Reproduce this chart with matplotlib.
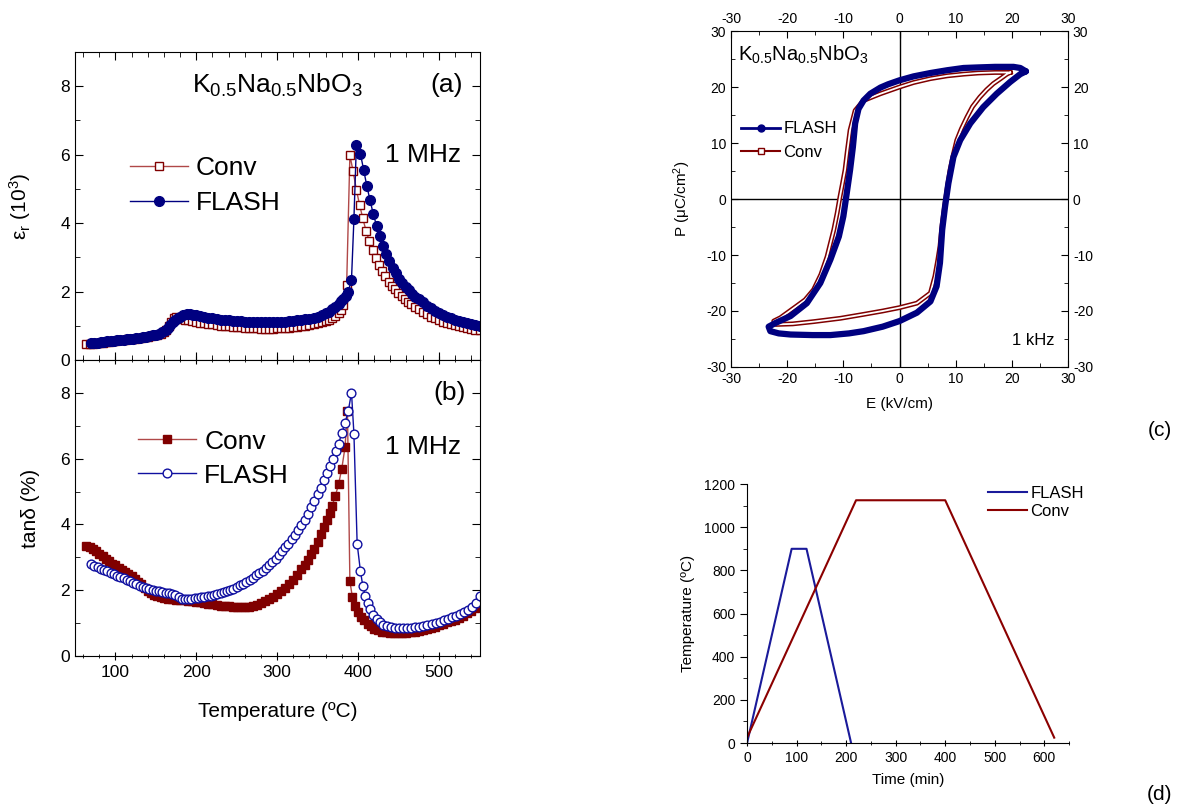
import matplotlib
matplotlib.use("Agg")
import matplotlib.pyplot as plt
from matplotlib.lines import Line2D
from matplotlib.ticker import MultipleLocator

plt.rcParams['font.family'] = ['Liberation Sans', 'DejaVu Sans']
plt.rcParams['mathtext.default'] = 'regular'
plt.rcParams['axes.unicode_minus'] = False

# ---------------- data: (a) permittivity, 1 MHz ----------------
conv_eps_T = [64, 68, 72, 76, 80, 84, 88, 92, 96, 100, 104, 108, 112, 116, 120, 124, 128, 132, 136, 140,
              144, 148, 152, 156, 160, 163, 166, 169, 172, 175, 178, 182, 186, 190, 195, 200, 205, 210, 215, 220,
              225, 230, 235, 240, 245, 250, 255, 260, 265, 270, 275, 280, 285, 290, 295, 300, 305, 310, 315, 320,
              325, 330, 335, 340, 345, 350, 355, 360, 364, 368, 372, 376, 379, 382, 386, 390, 394, 398, 402, 406,
              410, 414, 418, 422, 426, 430, 434, 438, 442, 446, 450, 454, 458, 462, 466, 470, 475, 480, 485, 490,
              495, 500, 505, 510, 515, 520, 525, 530, 535, 540, 545, 551]
conv_eps = [0.46, 0.47, 0.48, 0.49, 0.50, 0.51, 0.52, 0.53, 0.55, 0.56, 0.57, 0.58, 0.59, 0.60, 0.61, 0.62, 0.64, 0.65, 0.66, 0.68,
            0.70, 0.72, 0.74, 0.77, 0.82, 0.88, 0.98, 1.12, 1.22, 1.25, 1.24, 1.20, 1.18, 1.16, 1.13, 1.11, 1.09, 1.08, 1.06, 1.04,
            1.02, 1.00, 0.99, 0.98, 0.97, 0.96, 0.95, 0.94, 0.93, 0.92, 0.92, 0.91, 0.91, 0.91, 0.91, 0.92, 0.92, 0.93, 0.94, 0.95,
            0.96, 0.98, 1.00, 1.02, 1.04, 1.07, 1.10, 1.14, 1.18, 1.22, 1.28, 1.36, 1.45, 1.62, 2.19, 5.98, 5.51, 4.98, 4.53, 4.14,
            3.77, 3.48, 3.22, 2.97, 2.77, 2.60, 2.44, 2.29, 2.17, 2.06, 1.96, 1.87, 1.78, 1.70, 1.63, 1.56, 1.48, 1.40, 1.33, 1.27,
            1.22, 1.17, 1.12, 1.08, 1.04, 1.01, 0.98, 0.96, 0.93, 0.91, 0.89, 0.87]

flash_eps_T = [70, 74, 78, 82, 86, 90, 94, 98, 102, 106, 110, 114, 118, 122, 126, 130, 134, 138, 142, 146,
               150, 154, 158, 162, 165, 168, 171, 174, 177, 180, 184, 188, 192, 196, 200, 205, 210, 215, 220, 225,
               230, 235, 240, 245, 250, 255, 260, 265, 270, 275, 280, 285, 290, 295, 300, 305, 310, 315, 320, 325,
               330, 335, 340, 345, 350, 355, 360, 364, 368, 372, 376, 379, 382, 385, 388, 392, 395, 398, 403, 407,
               411, 415, 419, 423, 427, 431, 435, 439, 443, 447, 451, 455, 459, 463, 467, 471, 475, 480, 485, 490,
               495, 500, 505, 510, 515, 520, 525, 530, 535, 540, 545, 551]
flash_eps = [0.49, 0.50, 0.51, 0.52, 0.53, 0.54, 0.55, 0.56, 0.57, 0.58, 0.59, 0.60, 0.61, 0.62, 0.63, 0.65, 0.66, 0.68, 0.70, 0.72,
             0.74, 0.77, 0.81, 0.87, 0.94, 1.02, 1.10, 1.17, 1.23, 1.27, 1.31, 1.33, 1.33, 1.32, 1.30, 1.28, 1.26, 1.24, 1.22, 1.20,
             1.18, 1.17, 1.16, 1.15, 1.14, 1.13, 1.12, 1.11, 1.11, 1.10, 1.10, 1.10, 1.10, 1.10, 1.11, 1.11, 1.12, 1.13, 1.14, 1.16,
             1.17, 1.19, 1.21, 1.24, 1.27, 1.31, 1.36, 1.41, 1.48, 1.55, 1.64, 1.71, 1.78, 1.88, 2.00, 2.35, 4.12, 6.27, 6.03, 5.56,
             5.08, 4.66, 4.26, 3.92, 3.61, 3.33, 3.09, 2.89, 2.70, 2.53, 2.38, 2.25, 2.14, 2.03, 1.94, 1.85, 1.77, 1.68, 1.59, 1.51,
             1.44, 1.38, 1.32, 1.27, 1.22, 1.18, 1.14, 1.10, 1.07, 1.04, 1.01, 0.98]

# ---------------- data: (b) loss tangent, 1 MHz ----------------
conv_tan_T = [64, 68, 72, 76, 80, 84, 88, 92, 96, 100, 104, 108, 112, 116, 120, 124, 128, 132, 136, 140,
              144, 148, 152, 156, 160, 165, 170, 175, 180, 185, 190, 195, 200, 205, 210, 215, 220, 225, 230, 235,
              240, 245, 250, 255, 260, 265, 270, 275, 280, 285, 290, 295, 300, 305, 310, 315, 320, 325, 330, 334,
              338, 342, 346, 350, 354, 358, 362, 365, 368, 372, 376, 380, 384, 387, 390, 393, 396, 400, 404, 408,
              412, 416, 420, 425, 430, 435, 440, 445, 450, 455, 460, 465, 470, 475, 480, 485, 490, 495, 500, 505,
              510, 515, 520, 525, 530, 535, 540, 545, 549, 551]
conv_tan = [3.34, 3.30, 3.25, 3.18, 3.10, 3.03, 2.96, 2.88, 2.81, 2.76, 2.69, 2.62, 2.55, 2.49, 2.42, 2.34, 2.26, 2.18, 2.08, 1.98,
            1.92, 1.87, 1.83, 1.80, 1.77, 1.74, 1.72, 1.71, 1.70, 1.69, 1.68, 1.67, 1.65, 1.63, 1.61, 1.59, 1.57, 1.55, 1.53, 1.52,
            1.51, 1.50, 1.49, 1.48, 1.48, 1.49, 1.52, 1.56, 1.61, 1.67, 1.73, 1.80, 1.88, 1.97, 2.07, 2.19, 2.32, 2.47, 2.64, 2.78,
            2.93, 3.10, 3.25, 3.48, 3.70, 3.92, 4.15, 4.35, 4.57, 4.87, 5.22, 5.70, 6.35, 7.45, 2.28, 1.80, 1.52, 1.35, 1.20, 1.08,
            0.98, 0.90, 0.83, 0.78, 0.74, 0.72, 0.70, 0.69, 0.69, 0.69, 0.70, 0.72, 0.74, 0.76, 0.79, 0.82, 0.86, 0.89, 0.93, 0.97,
            1.02, 1.06, 1.11, 1.17, 1.23, 1.30, 1.36, 1.46, 1.56, 1.64]

flash_tan_T = [70, 74, 78, 82, 86, 90, 94, 98, 102, 106, 110, 114, 118, 122, 126, 130, 134, 138, 142, 146,
               150, 154, 158, 162, 166, 170, 174, 178, 182, 186, 190, 194, 198, 202, 206, 210, 214, 218, 222, 226,
               230, 234, 238, 242, 246, 250, 254, 258, 262, 266, 270, 274, 278, 282, 286, 290, 294, 298, 302, 306,
               310, 314, 318, 322, 326, 330, 334, 338, 342, 346, 350, 354, 358, 362, 365, 369, 373, 376, 380, 384,
               388, 392, 395, 399, 403, 406, 409, 412, 415, 419, 423, 427, 431, 436, 441, 446, 451, 456, 461, 466,
               471, 476, 481, 486, 491, 496, 501, 506, 511, 516, 521, 526, 531, 536, 541, 546, 551]
flash_tan = [2.81, 2.75, 2.70, 2.66, 2.62, 2.57, 2.53, 2.48, 2.44, 2.40, 2.36, 2.31, 2.27, 2.22, 2.18, 2.14, 2.11, 2.08, 2.05, 2.02,
             1.99, 1.97, 1.95, 1.93, 1.91, 1.88, 1.85, 1.80, 1.74, 1.72, 1.73, 1.74, 1.76, 1.77, 1.78, 1.79, 1.81, 1.83, 1.86, 1.88,
             1.91, 1.94, 1.97, 2.01, 2.05, 2.10, 2.15, 2.20, 2.26, 2.32, 2.38, 2.45, 2.52, 2.60, 2.68, 2.77, 2.86, 2.96, 3.07, 3.18,
             3.30, 3.42, 3.55, 3.68, 3.82, 3.98, 4.14, 4.32, 4.52, 4.72, 4.92, 5.12, 5.36, 5.58, 5.77, 6.00, 6.22, 6.45, 6.78, 7.09,
             7.45, 8.01, 6.76, 3.41, 2.59, 2.13, 1.83, 1.61, 1.42, 1.25, 1.12, 1.02, 0.95, 0.90, 0.87, 0.85, 0.84, 0.84, 0.84, 0.85,
             0.87, 0.89, 0.91, 0.94, 0.97, 1.00, 1.04, 1.08, 1.13, 1.18, 1.23, 1.29, 1.35, 1.41, 1.48, 1.60, 1.82]

# ---------------- data: (c) P-E loops, 1 kHz ----------------
flash_E = [22.5, 21.5, 20.3, 17.0, 14.0, 11.4, 8.5, 5.5, 2.5, 0.0, -2.0, -3.4, -5.2, -6.4, -7.3, -7.9, -8.3, -8.8, -9.4, -10.0,
           -10.8, -12.3, -14.1, -16.5, -19.4, -22.0, -23.3, -23.0, -21.5, -19.4, -15.5, -12.3, -9.0, -6.4, -3.0, 0.0, 3.1, 5.5, 6.6, 7.2,
           7.6, 8.1, 8.7, 9.6, 10.8, 12.6, 14.9, 17.3, 19.7, 21.5, 22.5]
flash_P = [22.8, 23.4, 23.6, 23.6, 23.5, 23.4, 23.0, 22.5, 21.9, 21.2, 20.5, 19.9, 18.8, 17.6, 16.1, 13.5, 9.3, 5.2, 1.0, -3.1,
           -6.7, -10.8, -15.0, -18.6, -20.9, -22.1, -22.8, -23.6, -24.0, -24.2, -24.3, -24.3, -24.0, -23.6, -22.8, -21.8, -20.3, -18.3, -15.6, -11.4,
           -5.5, -1.4, 2.8, 7.5, 10.5, 13.5, 16.4, 18.8, 20.9, 22.3, 22.8]

conv_E = [19.7, 17.0, 14.0, 11.4, 8.5, 5.5, 2.5, 0.0, -3.4, -6.4, -7.9, -8.8, -9.3, -9.7, -10.2, -10.6, -11.1, -11.7, -12.9, -14.0,
          -15.3, -16.8, -18.3, -21.2, -22.4, -22.0, -19.0, -15.3, -10.5, -6.4, -3.0, 0.0, 3.1, 5.5, 6.3, 6.8, 7.2, 7.6, 8.1, 8.5,
          9.0, 9.6, 10.2, 11.0, 12.0, 13.0, 14.3, 15.5, 16.7, 18.0, 19.1, 19.7]
conv_P = [22.6, 22.6, 22.5, 22.3, 22.0, 21.5, 20.8, 20.0, 18.8, 17.6, 15.8, 12.3, 8.5, 5.2, 2.5, 0.4, -2.5, -5.5, -10.3, -13.5,
          -16.2, -18.0, -19.1, -21.2, -21.8, -22.4, -22.3, -21.9, -21.3, -20.6, -20.0, -19.4, -18.6, -16.8, -13.8, -11.0, -8.5, -4.5, -0.8, 2.0,
          5.2, 8.0, 10.5, 12.5, 14.6, 16.5, 18.2, 19.5, 20.6, 21.5, 22.3, 22.6]

# ---------------- data: (d) sintering profiles ----------------
flash_time = [0, 90, 120, 210]
flash_temp = [0, 900, 900, 0]
conv_time = [0, 220, 400, 620]
conv_temp = [25, 1125, 1125, 25]

navy = '#000080'
dred = '#800000'
conv_line = '#b04848'
blue = '#1010a0'

fig = plt.figure(figsize=(11.8, 8.08), dpi=100)

ax_a = fig.add_axes([0.0636, 0.5545, 0.3432, 0.3812])
ax_b = fig.add_axes([0.0636, 0.1881, 0.3432, 0.3663])
ax_c = fig.add_axes([0.6195, 0.5458, 0.2856, 0.4158])
ax_d = fig.add_axes([0.6331, 0.0804, 0.2729, 0.3205])

# ---- (a) ----
ax_a.plot(conv_eps_T, conv_eps, color=conv_line, lw=1, marker='s', ms=6, mfc='white', mec=dred, mew=1, label='Conv')
ax_a.plot(flash_eps_T, flash_eps, color=navy, lw=1, marker='o', ms=7, mfc=navy, mec=navy, label='FLASH')
ax_a.set_xlim(50, 551)
ax_a.set_ylim(0, 9)
ax_a.yaxis.set_major_locator(MultipleLocator(2))
ax_a.yaxis.set_minor_locator(MultipleLocator(1))
ax_a.xaxis.set_major_locator(MultipleLocator(100))
ax_a.xaxis.set_minor_locator(MultipleLocator(20))
ax_a.tick_params(which='both', direction='in', top=True, right=True, labelbottom=False, labelsize=12.5)
ax_a.tick_params(which='major', length=6)
ax_a.tick_params(which='minor', length=3.5)
ax_a.set_ylabel('ε$_r$ (10$^3$)', fontsize=15)
ax_a.yaxis.set_label_coords(-0.104, 0.5)
ax_a.text(0.50, 0.893, r'K$_{0.5}$Na$_{0.5}$NbO$_3$', transform=ax_a.transAxes, ha='center', va='center', fontsize=19)
ax_a.text(0.918, 0.893, '(a)', transform=ax_a.transAxes, ha='center', va='center', fontsize=19)
ax_a.text(0.859, 0.666, '1 MHz', transform=ax_a.transAxes, ha='center', va='center', fontsize=19)
ax_a.legend(loc='center left', bbox_to_anchor=(0.136, 0.567), frameon=False, fontsize=19,
            handlelength=2.2, handletextpad=0.3, labelspacing=0.42, borderpad=0, borderaxespad=0)

# ---- (b) ----
ax_b.plot(conv_tan_T, conv_tan, color=conv_line, lw=1, marker='s', ms=5.5, mfc=dred, mec=dred, mew=1, label='Conv')
ax_b.plot(flash_tan_T, flash_tan, color=blue, lw=1, marker='o', ms=6.3, mfc='white', mec=blue, mew=1, label='FLASH')
ax_b.set_xlim(50, 551)
ax_b.set_ylim(0, 9)
ax_b.yaxis.set_major_locator(MultipleLocator(2))
ax_b.yaxis.set_minor_locator(MultipleLocator(1))
ax_b.xaxis.set_major_locator(MultipleLocator(100))
ax_b.xaxis.set_minor_locator(MultipleLocator(20))
ax_b.tick_params(which='both', direction='in', top=True, right=True, labelsize=12.5)
ax_b.tick_params(axis='x', which='both', bottom=True, direction='inout')
ax_b.tick_params(which='major', length=6)
ax_b.tick_params(which='minor', length=3.5)
ax_b.set_ylabel('tanδ (%)', fontsize=15)
ax_b.yaxis.set_label_coords(-0.086, 0.5)
ax_b.set_xlabel('Temperature (ºC)', fontsize=15)
ax_b.xaxis.set_label_coords(0.5, -0.155)
ax_b.text(0.926, 0.889, '(b)', transform=ax_b.transAxes, ha='center', va='center', fontsize=19)
ax_b.text(0.859, 0.706, '1 MHz', transform=ax_b.transAxes, ha='center', va='center', fontsize=19)
ax_b.legend(loc='center left', bbox_to_anchor=(0.156, 0.667), frameon=False, fontsize=19,
            handlelength=2.2, handletextpad=0.3, labelspacing=0.38, borderpad=0, borderaxespad=0)

# ---- (c) ----
ax_c.axhline(0, color='black', lw=1, zorder=1)
ax_c.axvline(0, color='black', lw=1, zorder=1)
ax_c.plot(conv_E, conv_P, color=dred, lw=3.5, solid_joinstyle='round', zorder=2)
ax_c.plot(conv_E, conv_P, color='white', lw=1.3, solid_joinstyle='round', zorder=2)
ax_c.plot(flash_E, flash_P, color=navy, lw=4.5, solid_joinstyle='round', solid_capstyle='round', zorder=3)
ax_c.set_xlim(-30, 30)
ax_c.set_ylim(-30, 30)
ax_c.xaxis.set_major_locator(MultipleLocator(10))
ax_c.xaxis.set_minor_locator(MultipleLocator(5))
ax_c.yaxis.set_major_locator(MultipleLocator(10))
ax_c.yaxis.set_minor_locator(MultipleLocator(5))
ax_c.tick_params(which='both', direction='in', top=True, right=True, labeltop=True, labelright=True, labelsize=10)
ax_c.tick_params(which='major', length=5)
ax_c.tick_params(which='minor', length=3)
ax_c.set_xlabel('E (kV/cm)', fontsize=11)
ax_c.set_ylabel('P (μC/cm$^2$)', fontsize=11)
ax_c.xaxis.set_label_coords(0.5, -0.088)
ax_c.yaxis.set_label_coords(-0.113, 0.5)
ax_c.text(0.02, 0.93, r'K$_{0.5}$Na$_{0.5}$NbO$_3$', transform=ax_c.transAxes, ha='left', va='center', fontsize=14.5)
ax_c.text(0.96, 0.08, '1 kHz', transform=ax_c.transAxes, ha='right', va='center', fontsize=12)
keys_c = [Line2D([], [], color=navy, lw=2, marker='o', ms=5, mfc=navy, mec=navy),
          Line2D([], [], color=dred, lw=1.5, marker='s', ms=4.5, mfc='white', mec=dred)]
ax_c.legend(keys_c, ['FLASH', 'Conv'], loc='center left', bbox_to_anchor=(0.03, 0.674), frameon=False, fontsize=12,
            handlelength=2.35, handletextpad=0.2, labelspacing=0.5, borderpad=0, borderaxespad=0)

# ---- (d) ----
ax_d.plot(flash_time, flash_temp, color='#1a1a9a', lw=1.5, label='FLASH')
ax_d.plot(conv_time, conv_temp, color='#8b0000', lw=1.5, label='Conv')
ax_d.set_xlim(0, 650)
ax_d.set_ylim(0, 1200)
ax_d.xaxis.set_major_locator(MultipleLocator(100))
ax_d.xaxis.set_minor_locator(MultipleLocator(50))
ax_d.yaxis.set_major_locator(MultipleLocator(200))
ax_d.yaxis.set_minor_locator(MultipleLocator(100))
ax_d.spines['top'].set_visible(False)
ax_d.spines['right'].set_visible(False)
ax_d.tick_params(axis='x', which='both', direction='inout', labelsize=10)
ax_d.tick_params(axis='y', which='both', direction='out', labelsize=10)
ax_d.tick_params(which='major', length=5)
ax_d.tick_params(which='minor', length=3)
ax_d.set_xlabel('Time (min)', fontsize=11)
ax_d.set_ylabel('Temperature (ºC)', fontsize=11)
ax_d.xaxis.set_label_coords(0.5, -0.116)
ax_d.yaxis.set_label_coords(-0.161, 0.5)
ax_d.legend(loc='center left', bbox_to_anchor=(0.748, 0.93), frameon=False, fontsize=12,
            handlelength=2.35, handletextpad=0.2, labelspacing=0.2, borderpad=0, borderaxespad=0)

fig.text(1160 / 1180, 1 - 430 / 808, '(c)', ha='center', va='center', fontsize=15)
fig.text(1160 / 1180, 1 - 795 / 808, '(d)', ha='center', va='center', fontsize=15)

fig.savefig('out.png', dpi=100)
